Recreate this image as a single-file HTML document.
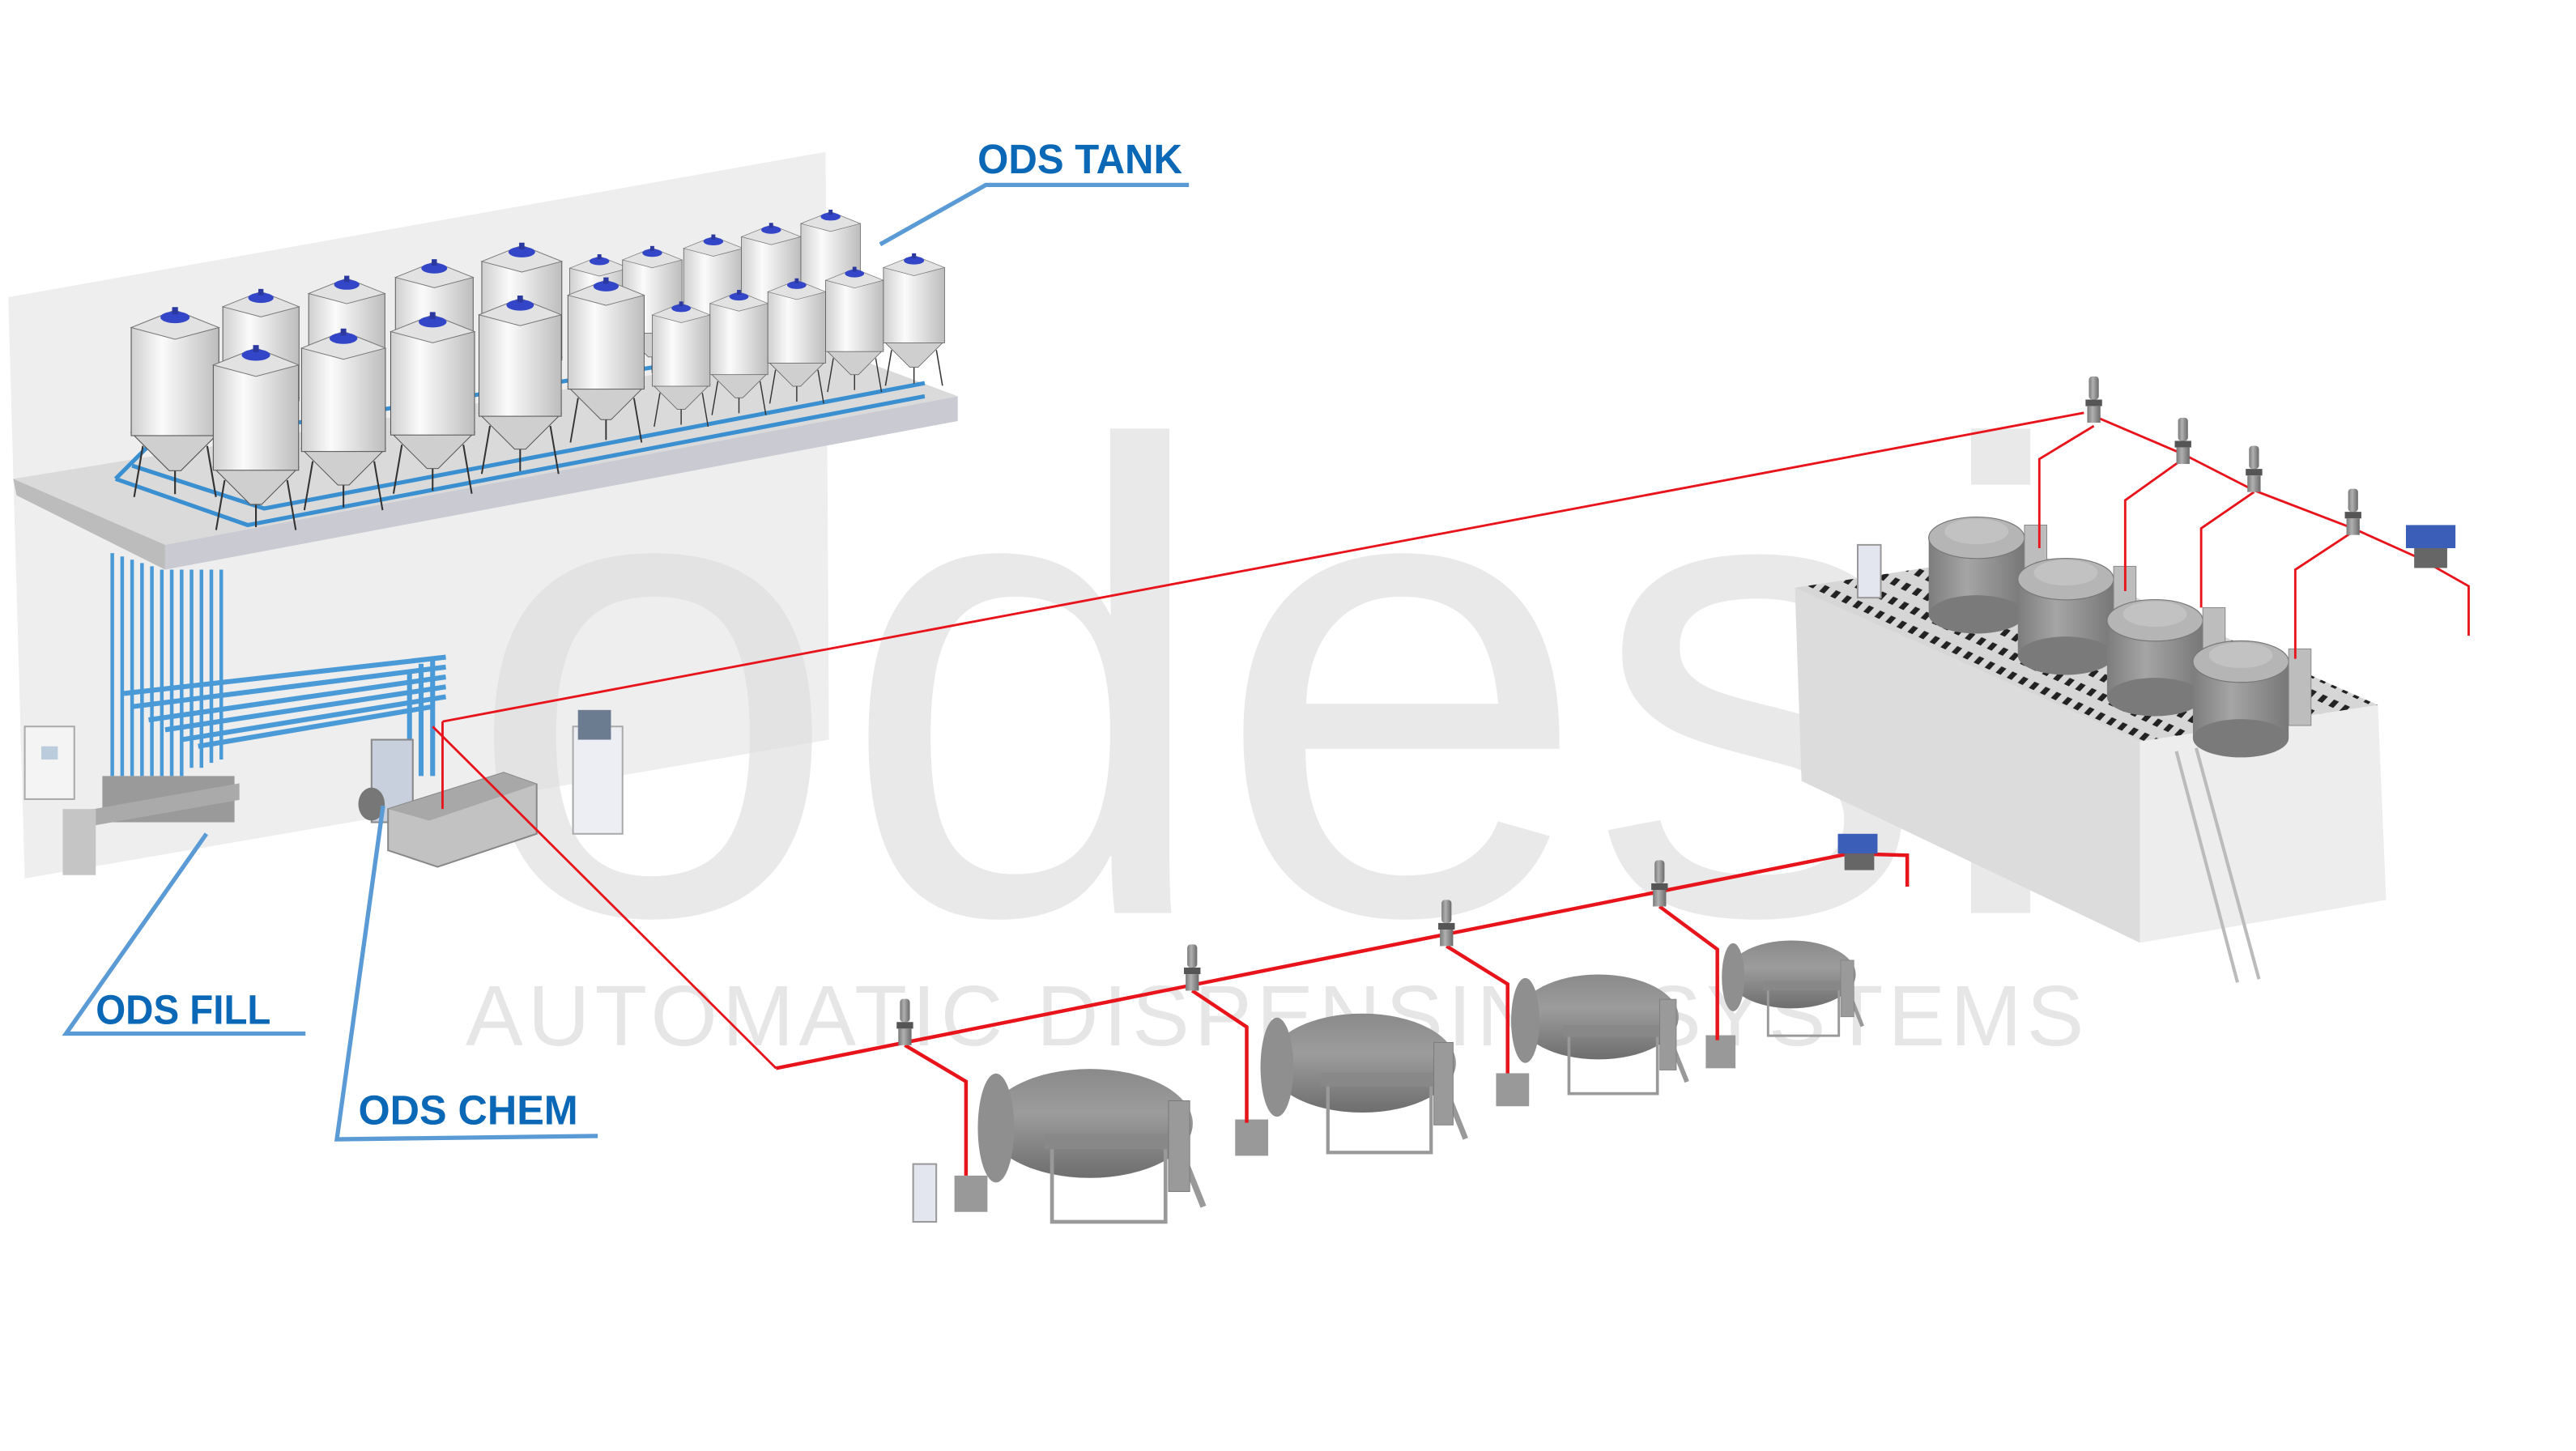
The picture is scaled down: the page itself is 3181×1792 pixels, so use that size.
<!DOCTYPE html>
<html><head><meta charset="utf-8"><style>
html,body{margin:0;padding:0;background:#fff}
svg{display:block}
</style></head><body>
<svg width="3181" height="1792" viewBox="0 0 1560 878.8" preserveAspectRatio="none" xmlns="http://www.w3.org/2000/svg">
<defs>
<linearGradient id="tb" x1="0" x2="1"><stop offset="0" stop-color="#cfcfcf"/><stop offset=".35" stop-color="#fbfbfb"/><stop offset="1" stop-color="#bdbdbd"/></linearGradient>
<linearGradient id="gt" x1="0" x2="0" y1="0" y2="1"><stop offset="0" stop-color="#8a8a8a"/><stop offset=".4" stop-color="#9c9c9c"/><stop offset="1" stop-color="#6e6e6e"/></linearGradient>
<linearGradient id="pt" x1="0" x2="1"><stop offset="0" stop-color="#7a7a7a"/><stop offset=".4" stop-color="#b0b0b0"/><stop offset="1" stop-color="#6a6a6a"/></linearGradient>
<linearGradient id="ct" x1="0" x2="1"><stop offset="0" stop-color="#7d7d7d"/><stop offset=".4" stop-color="#a5a5a5"/><stop offset="1" stop-color="#777"/></linearGradient>
<pattern id="dots" width="9" height="9" patternUnits="userSpaceOnUse" patternTransform="skewX(-30) rotate(20)"><rect width="9" height="9" fill="#d6d6d6"/><rect x="2" y="2" width="4" height="4" fill="#222"/></pattern>
<symbol id="tank" viewBox="0 0 60 130" overflow="visible">
 <line x1="8" y1="95" x2="2" y2="130" stroke="#333" stroke-width="1.2"/>
 <line x1="52" y1="95" x2="58" y2="130" stroke="#333" stroke-width="1.2"/>
 <line x1="30" y1="100" x2="30" y2="128" stroke="#333" stroke-width="1.2"/>
 <polygon points="0,86 60,86 34,112 26,112" fill="#cfcfcf" stroke="#555" stroke-width=".6"/>
 <rect x="0" y="14" width="60" height="74" fill="url(#tb)" stroke="#555" stroke-width=".6"/>
 <polygon points="0,14 30,2 60,14 30,22" fill="#e2e2e2" stroke="#777" stroke-width=".6"/>
 <ellipse cx="30" cy="7" rx="10" ry="4" fill="#3346c8"/>
 <rect x="28" y="0" width="4" height="5" fill="#2a38a0"/>
</symbol>
<symbol id="valve" viewBox="0 0 12 30" overflow="visible">
 <rect x="3" y="0" width="6" height="14" rx="2" fill="url(#pt)"/>
 <rect x="1" y="14" width="10" height="4" fill="#555"/>
 <rect x="2" y="18" width="8" height="10" fill="url(#pt)"/>
</symbol>
<symbol id="htank" viewBox="0 0 140 120" overflow="visible">
 <ellipse cx="70" cy="55" rx="68" ry="36" fill="url(#gt)"/>
 <ellipse cx="8" cy="58" rx="12" ry="36" fill="#8f8f8f"/>
 <rect x="45" y="65" width="75" height="55" fill="none" stroke="#999" stroke-width="2.5"/>
 <rect x="40" y="62" width="85" height="10" fill="#888"/>
 <line x1="125" y1="60" x2="145" y2="110" stroke="#999" stroke-width="4"/>
 <rect x="122" y="40" width="14" height="60" fill="#9a9a9a" stroke="#777" stroke-width=".5"/>
</symbol>
<symbol id="ptank" viewBox="0 0 60 80" overflow="visible">
 <rect x="0" y="18" width="60" height="48" fill="url(#ct)"/>
 <ellipse cx="30" cy="66" rx="30" ry="12" fill="#7a7a7a"/>
 <ellipse cx="30" cy="18" rx="30" ry="13" fill="#b5b5b5" stroke="#777" stroke-width=".6"/>
 <ellipse cx="30" cy="14" rx="20" ry="8" fill="#c2c2c2"/>
 <rect x="60" y="10" width="14" height="48" fill="#bdbdbd" stroke="#888" stroke-width=".5"/>
</symbol>
</defs>

<!-- wall -->
<polygon points="5,180 500,92 502,448 15,532" fill="#eeeeee"/>
<!-- watermark -->
<text x="282" y="553" font-family="Liberation Sans, sans-serif" font-size="405" fill="#dcdcdc" opacity="0.6" textLength="975" lengthAdjust="spacingAndGlyphs">odesi</text>
<text x="1268" y="552" font-family="Liberation Sans, sans-serif" font-size="32" fill="#e3e3e3">®</text>
<text x="282" y="633" font-family="Liberation Sans, sans-serif" font-size="52" fill="#e6e6e6" textLength="980" lengthAdjust="spacing">AUTOMATIC DISPENSING SYSTEMS</text>

<!-- shelf -->
<polygon points="8,290 500,210 580,240 100,330" fill="#dadada"/>
<polygon points="100,330 580,240 580,255 100,345" fill="#c9cad2"/>
<polygon points="8,290 100,330 100,345 10,300" fill="#bcbcbc"/>
<g stroke="#3a8fd0" stroke-width="2.5" fill="none">
<polyline points="70,290 150,318 560,240"/>
<polyline points="80,282 160,308 560,232"/>
<polyline points="70,290 90,270 540,200"/>
</g>
<use href="#tank" x="133" y="175" width="50" height="100"/>
<use href="#tank" x="185" y="167" width="50" height="100"/>
<use href="#tank" x="237" y="157" width="52" height="102"/>
<use href="#tank" x="288" y="147" width="56" height="105"/>
<use href="#tank" x="345" y="148" width="36" height="90"/>
<use href="#tank" x="377" y="143" width="36" height="90"/>
<use href="#tank" x="414" y="136" width="36" height="90"/>
<use href="#tank" x="449" y="129" width="36" height="90"/>
<use href="#tank" x="485" y="121" width="36" height="90"/>
<use href="#tank" x="77" y="186" width="58" height="115"/>
<use href="#tank" x="127" y="209" width="56" height="112"/>
<use href="#tank" x="180" y="199" width="56" height="110"/>
<use href="#tank" x="234" y="189" width="56" height="110"/>
<use href="#tank" x="286" y="179" width="58" height="108"/>
<use href="#tank" x="339" y="168" width="56" height="100"/>
<use href="#tank" x="395" y="173" width="35" height="95"/>
<use href="#tank" x="430" y="166" width="35" height="95"/>
<use href="#tank" x="465" y="159" width="35" height="95"/>
<use href="#tank" x="500" y="152" width="35" height="95"/>
<use href="#tank" x="535" y="146" width="37" height="95"/>

<g stroke="#4a9ad8" stroke-width="2.2">
<line x1="68" y1="335" x2="68" y2="470"/><line x1="74" y1="337" x2="74" y2="470"/><line x1="80" y1="339" x2="80" y2="470"/>
<line x1="86" y1="341" x2="86" y2="470"/><line x1="92" y1="343" x2="92" y2="470"/><line x1="98" y1="345" x2="98" y2="470"/>
<line x1="104" y1="345" x2="104" y2="470"/><line x1="110" y1="345" x2="110" y2="470"/><line x1="116" y1="345" x2="116" y2="465"/>
<line x1="122" y1="345" x2="122" y2="465"/><line x1="128" y1="345" x2="128" y2="462"/><line x1="134" y1="345" x2="134" y2="460"/>
</g>
<g stroke="#4a9ad8" stroke-width="3">
<line x1="75" y1="420" x2="270" y2="398"/><line x1="80" y1="428" x2="270" y2="404"/><line x1="90" y1="436" x2="270" y2="410"/>
<line x1="100" y1="442" x2="270" y2="416"/><line x1="110" y1="448" x2="270" y2="422"/><line x1="120" y1="452" x2="262" y2="428"/>
<line x1="262" y1="398" x2="262" y2="470"/><line x1="255" y1="402" x2="255" y2="470"/><line x1="248" y1="408" x2="248" y2="465"/>
</g>
<rect x="62" y="470" width="80" height="28" fill="#9a9a9a"/>
<rect x="40" y="500" width="105" height="10" fill="#aaa" transform="skewY(-10)"/>
<rect x="38" y="490" width="20" height="40" fill="#c5c5c5"/>
<rect x="15" y="440" width="30" height="44" fill="#f4f4f4" stroke="#aaa"/>
<rect x="25" y="452" width="10" height="8" fill="#bcd"/>
<rect x="225" y="448" width="25" height="50" fill="#c8d0de" stroke="#888"/>
<polygon points="235,490 305,468 325,475 325,505 265,525 235,515" fill="#c2c2c2" stroke="#888"/>
<polygon points="235,490 305,468 325,475 260,497" fill="#a8a8a8"/>
<ellipse cx="225" cy="487" rx="8" ry="10" fill="#777"/>
<rect x="347" y="440" width="30" height="65" fill="#eceef4" stroke="#aaa"/>
<rect x="350" y="430" width="20" height="18" fill="#6b7b90"/>

<!-- right platform -->
<polygon points="1087,356 1296,449 1296,571 1091,473" fill="#dcdcdc"/>
<polygon points="1296,449 1440,427 1445,545 1296,571" fill="#ededed"/>
<polygon points="1087,356 1231,334 1440,427 1296,449" fill="url(#dots)"/>
<g stroke="#bbb" stroke-width="2"><line x1="1318" y1="455" x2="1355" y2="595"/><line x1="1330" y1="453" x2="1368" y2="593"/></g>
<use href="#ptank" x="1168" y="308" width="58" height="78"/>
<use href="#ptank" x="1222" y="333" width="58" height="78"/>
<use href="#ptank" x="1276" y="358" width="58" height="78"/>
<use href="#ptank" x="1328" y="383" width="58" height="78"/>
<rect x="1125" y="330" width="14" height="32" fill="#e3e6ef" stroke="#999"/>

<use href="#htank" x="590" y="630" width="140" height="110"/>
<use href="#htank" x="765" y="598" width="120" height="100"/>
<use href="#htank" x="918" y="572" width="100" height="95"/>
<use href="#htank" x="1045" y="548" width="80" height="90"/>
<g fill="#999"><rect x="578" y="712" width="20" height="22"/><rect x="748" y="678" width="20" height="22"/><rect x="906" y="650" width="20" height="20"/><rect x="1033" y="627" width="18" height="20"/></g>
<rect x="553" y="705" width="14" height="35" fill="#e3e6ef" stroke="#999"/>

<g stroke="#e8141c" fill="none" stroke-width="1.4">
<line x1="268" y1="437" x2="1262" y2="250"/>
<polyline points="1268,252 1322,275 1365,297 1425,320 1465,338 1495,355 1495,385"/>
<polyline points="1268,258 1235,278 1235,332"/>
<polyline points="1322,278 1287,303 1287,358"/>
<polyline points="1365,298 1333,320 1333,368"/>
<polyline points="1425,322 1390,345 1390,399"/>
<polyline points="268,437 268,490"/>
<polyline points="262,440 470,647"/>
</g>
<g stroke="#e8141c" fill="none" stroke-width="2.2">
<polyline points="470,647 1120,517 1155,518 1155,537"/>
<polyline points="548,633 585,655 585,712"/>
<polyline points="722,600 755,622 755,680"/>
<polyline points="876,573 913,596 913,650"/>
<polyline points="1005,549 1040,575 1040,630"/>
</g>
<use href="#valve" x="1262" y="228" width="12" height="30"/>
<use href="#valve" x="1316" y="253" width="12" height="30"/>
<use href="#valve" x="1359" y="270" width="12" height="30"/>
<use href="#valve" x="1419" y="296" width="12" height="30"/>
<use href="#valve" x="542" y="605" width="12" height="30"/>
<use href="#valve" x="716" y="572" width="12" height="30"/>
<use href="#valve" x="870" y="545" width="12" height="30"/>
<use href="#valve" x="999" y="521" width="12" height="30"/>
<rect x="1457" y="318" width="30" height="14" fill="#3b5fb8"/><rect x="1462" y="332" width="20" height="12" fill="#666"/>
<rect x="1113" y="505" width="24" height="12" fill="#3b5fb8"/><rect x="1117" y="517" width="18" height="10" fill="#666"/>

<g stroke="#5b9bd5" stroke-width="2.6" fill="none">
<polyline points="533,148 597,112 720,112"/>
<polyline points="125,505 40,626 185,626"/>
<polyline points="232,488 204,690 362,688"/>
</g>
<g font-family="Liberation Sans, sans-serif" font-weight="bold" fill="#0a68b6" font-size="25">
<text x="592" y="105" textLength="124" lengthAdjust="spacingAndGlyphs">ODS TANK</text>
<text x="58" y="620" textLength="106" lengthAdjust="spacingAndGlyphs">ODS FILL</text>
<text x="217" y="681" textLength="133" lengthAdjust="spacingAndGlyphs">ODS CHEM</text>
</g>
</svg>
</body></html>
